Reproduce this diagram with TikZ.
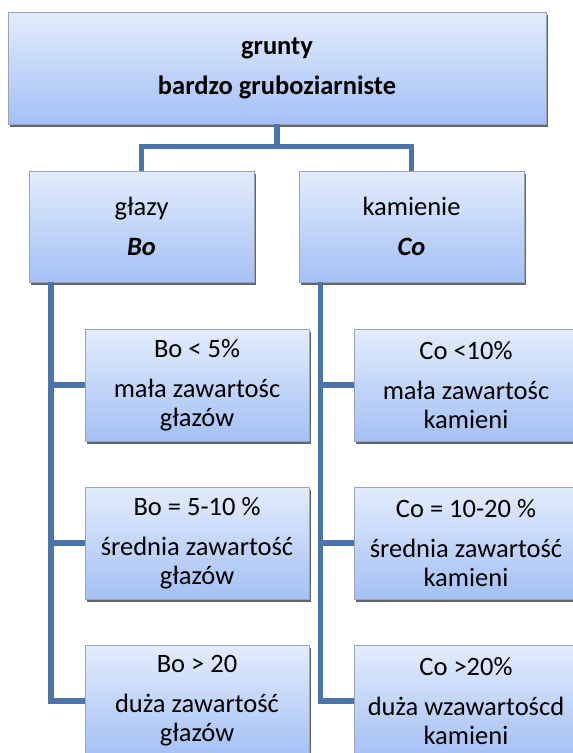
\documentclass[tikz,border=0pt]{standalone}
\usepackage{fontspec}
\setmainfont{Carlito}
\usetikzlibrary{shadows,calc}
\definecolor{boxtop}{HTML}{E3ECFC}
\definecolor{boxbot}{HTML}{A4C0F4}
\definecolor{boxline}{HTML}{9AA3B5}
\definecolor{conn}{HTML}{4A74AA}
\definecolor{shad}{HTML}{50545C}
\tikzset{
  box/.style={draw=boxline, line width=0.8pt, top color=boxtop, bottom color=boxbot,
    align=center, inner sep=0pt, text=black,
    font=\fontsize{26.5}{29}\selectfont,
    drop shadow={shadow xshift=1.5pt, shadow yshift=-2.5pt, fill=shad, opacity=0.9}},
  topbox/.style={box, minimum width=538pt, minimum height=112pt},
  midbox/.style={box, minimum width=225pt, minimum height=111pt},
  leafbox/.style={box, minimum width=224pt, minimum height=112pt},
  connector/.style={draw=conn, line width=5.3pt, line cap=butt, line join=miter}
}
\begin{document}
\begin{tikzpicture}[x=1pt,y=-1pt]
\useasboundingbox (0,0) rectangle (573,753);
\clip (0,0) rectangle (573,753);
% nodes
\node[topbox] (top) at (277,68) {\textbf{grunty}\\[11pt]\textbf{bardzo gruboziarniste}};
\node[midbox] (gl) at (141.5,226.5) {głazy\\[11pt]\textbf{\textit{Bo}}};
\node[midbox] (ka) at (411.5,226.5) {kamienie\\[11pt]\textbf{\textit{Co}}};
\node[leafbox] (b1) at (197,385) {Bo < 5\%\\[11pt]mała zawartośc\\głazów};
\node[leafbox] (b2) at (197,543) {Bo = 5-10 \%\\[11pt]średnia zawartość\\głazów};
\node[leafbox] (b3) at (197,701) {Bo > 20\\[11pt]duża zawartość\\głazów};
\node[leafbox] (c1) at (466,385) {Co <10\%\\[11pt]mała zawartośc\\kamieni};
\node[leafbox] (c2) at (466,543) {Co = 10-20 \%\\[11pt]średnia zawartość\\kamieni};
\node[leafbox] (c3) at (466,701) {Co >20\%\\[11pt]duża wzawartoścd\\kamieni};
% junction coordinates
\coordinate (j) at ($(top.south)+(0,22)$);
\coordinate (gx) at ($(gl.south west)+(22.5,0)$);
\coordinate (kx) at ($(ka.south west)+(22,0)$);
% connectors
\draw[connector] (top.south) -- (j);
\draw[connector] (j) -| (gl.north);
\draw[connector] (j) -| (ka.north);
\draw[connector] (gx) |- (b3.west);
\draw[connector] (b1.west -| gx) -- (b1.west);
\draw[connector] (b2.west -| gx) -- (b2.west);
\draw[connector] (kx) |- (c3.west);
\draw[connector] (c1.west -| kx) -- (c1.west);
\draw[connector] (c2.west -| kx) -- (c2.west);
\end{tikzpicture}
\end{document}
